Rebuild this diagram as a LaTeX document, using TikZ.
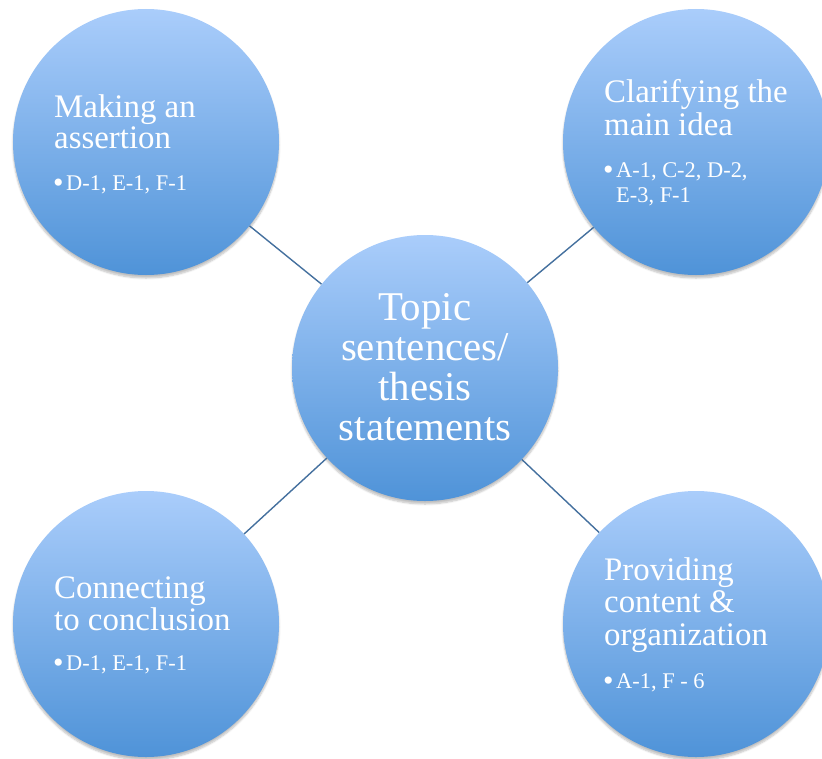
\documentclass[tikz,border=0pt]{standalone}
\usepackage{fontspec}
\setmainfont{Liberation Serif}
\usetikzlibrary{shadows.blur}
\definecolor{topblue}{HTML}{AACDFB}
\definecolor{botblue}{HTML}{4F93D8}
\definecolor{linkblue}{HTML}{44709E}
\tikzset{
  bubble/.style={circle, minimum size=266bp, inner sep=0pt, shading=axis,
    top color=topblue, bottom color=botblue,
    blur shadow={shadow xshift=0pt, shadow yshift=-3bp, shadow blur steps=6, shadow opacity=25}},
  conn/.style={draw=linkblue, line width=1.4bp},
  ttl/.style={anchor=base west, inner sep=0pt, text=white, font=\fontsize{33}{35}\selectfont},
  ctr/.style={anchor=base, inner sep=0pt, text=white, font=\fontsize{41}{43}\selectfont},
  blt/.style={anchor=base west, inner sep=0pt, text=white, font=\fontsize{22.5}{24}\selectfont},
  dot/.style={anchor=base west, inner sep=0pt, text=white, font=\fontsize{30}{30}\selectfont},
}
\begin{document}
\begin{tikzpicture}[x=1bp, y=-1bp]
\useasboundingbox (0,0) rectangle (822,759);
\begin{scope}
\clip (0,0) rectangle (822,759);
\node[bubble] (c) at (425,368) {};
\node[bubble] (tl) at (146,142) {};
\node[bubble] (tr) at (696,142) {};
\node[bubble] (bl) at (146,624) {};
\node[bubble] (br) at (696,624) {};
\draw[conn] (c) -- (tl);
\draw[conn] (c) -- (tr);
\draw[conn] (c) -- (bl);
\draw[conn] (c) -- (br);
\end{scope}
% center
\node[ctr] (c1) at (425,320) {Topic};
\node[ctr] (c2) at (425,360) {sentences/};
\node[ctr] (c3) at (425,400) {thesis};
\node[ctr] (c4) at (425,440) {statements};
% top left
\node[ttl] (tl1) at (54,117) {Making an};
\node[ttl] (tl2) at (54,148) {assertion};
\node[dot] (tlb) at (53,192) {•};
\node[blt] (tlt) at (66,190) {D-1, E-1, F-1};
% top right
\node[ttl] (tr1) at (604,102) {Clarifying the};
\node[ttl] (tr2) at (604,135) {main idea};
\node[dot] (trb) at (603,179) {•};
\node[blt] (trt1) at (616,177) {A-1, C-2, D-2,};
\node[blt] (trt2) at (616,202) {E-3, F-1};
% bottom left
\node[ttl] (bl1) at (54,598) {Connecting};
\node[ttl] (bl2) at (54,630) {to conclusion};
\node[dot] (blb) at (53,672) {•};
\node[blt] (blt1) at (66,670) {D-1, E-1, F-1};
% bottom right
\node[ttl] (br1) at (604,580) {Providing};
\node[ttl] (br2) at (604,612) {content \&};
\node[ttl] (br3) at (604,645) {organization};
\node[dot] (brb) at (603,690) {•};
\node[blt] (brt) at (616,688) {A-1, F - 6};
\end{tikzpicture}
\end{document}
